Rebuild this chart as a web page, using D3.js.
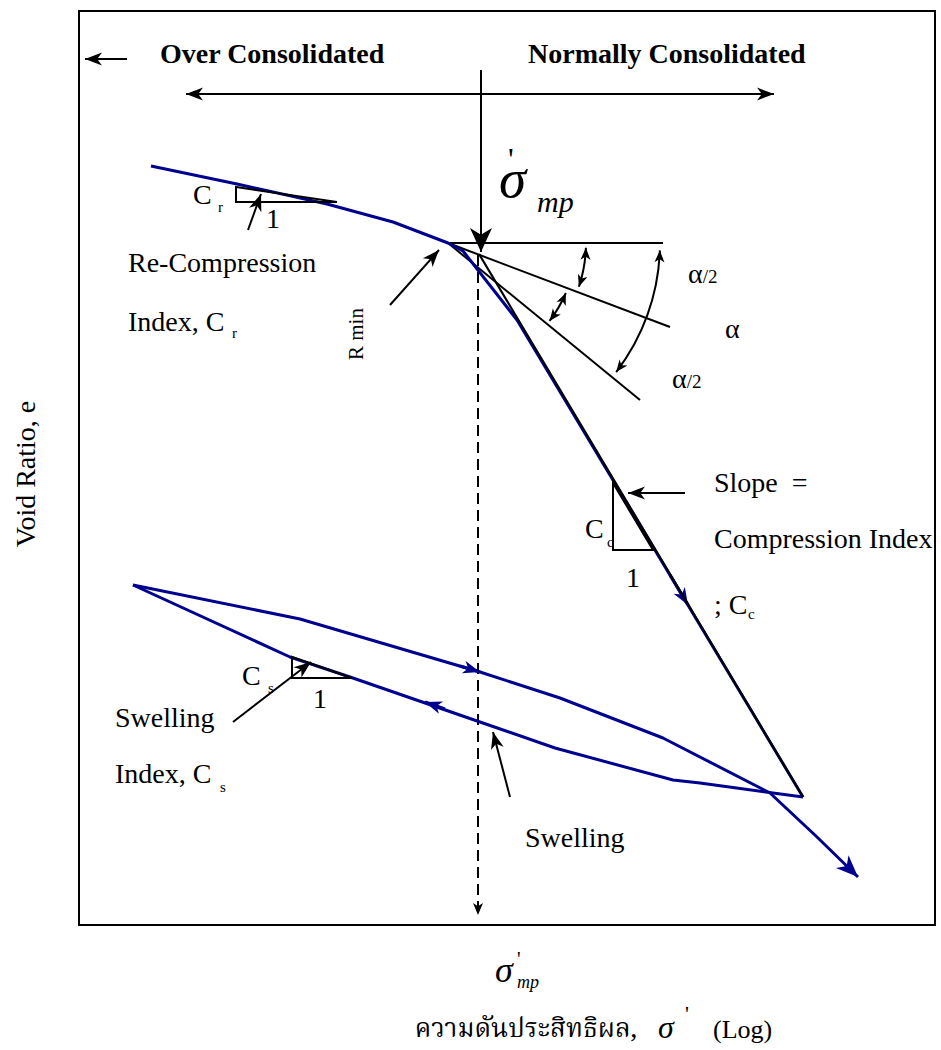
<!DOCTYPE html>
<html>
<head>
<meta charset="utf-8">
<title>e - log p</title>
<script src="https://d3js.org/d3.v7.min.js"></script>
<style>
  body { margin: 0; background: #fff; }
  text { font-family: "Liberation Serif", "Times New Roman", serif; fill: #000; }
  .head { font-weight: bold; font-size: 28px; }
  .lbl { font-size: 28px; }
  .sub { font-size: 15px; }
  .thai { font-family: "Noto Serif Thai", "Noto Sans Thai", "Loma", "Garuda", "DejaVu Sans", serif; font-size: 26px; }
</style>
</head>
<body>
<div id="chart"></div>
<script>
// diagram units: x = log(sigma') across the frame (0..856), y = void ratio e (0..914)
const compression = [[72,759],[158,741],[248,721],[314,703],[369,682],[384,674],[438,605],[724,128]];
const ccLine = [[400,671],[724,128]];
const unloading = [[724,128],[621,142],[594,145],[476,177],[401,203],[271,248],[211,268],[54,340]];
const reloading = [[54,340],[221,306],[401,253],[481,227],[584,187],[691,132],[738,88],[779,48]];

// arrows drawn on the curves: [from, tip]
const curveArrows = [[[591,350],[609,320]], [[381,259],[401,253]], [[366,216],[346,223]]];

// Casagrande construction
const vertex = [369,682];
const horizLine = [[369,682],[584,682]];
const bisector = [[369,682],[591,598]];
const tangent = [[369,682],[561,525]];
const angleArcs = [ // [radius, start deg, end deg] below the horizontal
  [138, 2, 18.5],
  [128, 23, 37.5],
  [212, 2, 37.5]
];

const triangles = [
  [[157,738],[157,723],[258,723]],   // Cr
  [[213,268],[213,247],[273,247]],   // Cs
  [[534,442],[534,375],[574,375]]    // Cc
];

// pointer arrows: [from, tip]
const pointers = [
  [[48,866],[6,866]],
  [[169,695],[182,731]],
  [[311,620],[360,675]],
  [[154,203],[232,263]],
  [[606,432],[549,432]],
  [[431,128],[414,193]]
];
const rangeArrow = [[107,831],[695,831]];
const sigmaArrow = [[402,855],[402,673]];
const dashedLine = [[399,670],[399,10]];

const labels = [
  ["Re-Compression", 49, 653, "lbl"],
  ["Index, C", 49, 594, "lbl"],
  ["r", 153, 587, "sub"],
  ["C", 114, 721, "lbl"],
  ["r", 139, 713, "sub"],
  ["1", 187, 697, "lbl"],
  ["Slope  =", 635, 433, "lbl"],
  ["Compression Index", 635, 377, "lbl"],
  ["; C", 635, 311, "lbl"],
  ["c", 669, 306, "sub"],
  ["C", 506, 387, "lbl"],
  ["c", 528, 378, "sub"],
  ["1", 547, 338, "lbl"],
  ["C", 163, 240, "lbl"],
  ["s", 189, 232, "sub"],
  ["1", 234, 217, "lbl"],
  ["Swelling", 36, 198, "lbl"],
  ["Index, C", 36, 142, "lbl"],
  ["s", 141, 133, "sub"],
  ["Swelling", 446, 78, "lbl"],
  ["\u03b1", 646, 587, "lbl"]
];
const headings = [["Over Consolidated", 81, 862], ["Normally Consolidated", 449, 862]];
const halfAlpha = [[609, 642], [593, 537]];

const W = 941, H = 1050;
const svg = d3.select("#chart").append("svg").attr("width", W).attr("height", H);

const x = d3.scaleLinear().domain([0, 856]).range([79, 935]);
const y = d3.scaleLinear().domain([0, 914]).range([925, 11]);
const line = d3.line().x(d => x(d[0])).y(d => y(d[1]));

const BLUE = "#00008f";
const defs = svg.append("defs");
function marker(id, len, half, color) {
  defs.append("marker")
    .attr("id", id)
    .attr("viewBox", `${-len - 1} ${-half - 1} ${len + 2} ${2 * half + 2}`)
    .attr("markerWidth", len + 2)
    .attr("markerHeight", 2 * half + 2)
    .attr("refX", 0).attr("refY", 0)
    .attr("markerUnits", "userSpaceOnUse")
    .attr("orient", "auto-start-reverse")
    .append("path")
    .attr("d", `M0,0L${-len},${-half}L${-len * 0.72},0L${-len},${half}Z`)
    .attr("fill", color);
}
marker("big", 24, 11, "#000");
marker("mid", 17, 6.5, "#000");
marker("small", 12, 5, "#000");
marker("blue", 17, 6.5, BLUE);
marker("blueEnd", 22, 9, BLUE);

// frame
svg.append("rect")
  .attr("x", x(0)).attr("y", y(914))
  .attr("width", x(856) - x(0)).attr("height", y(0) - y(914))
  .attr("fill", "none").attr("stroke", "#000").attr("stroke-width", 2);

// construction lines
[horizLine, bisector, tangent].forEach(l => {
  svg.append("path").attr("d", line(l))
    .attr("fill", "none").attr("stroke", "#000").attr("stroke-width", 2);
});

angleArcs.forEach(a => {
  const p = d3.path();
  const r = x(a[0]) - x(0);
  p.arc(x(vertex[0]), y(vertex[1]), r, a[1] * Math.PI / 180, a[2] * Math.PI / 180);
  svg.append("path").attr("d", p.toString())
    .attr("fill", "none").attr("stroke", "#000").attr("stroke-width", 2)
    .attr("marker-start", "url(#small)").attr("marker-end", "url(#small)");
});

// dashed projection
svg.append("path").attr("d", line(dashedLine))
  .attr("fill", "none").attr("stroke", "#000").attr("stroke-width", 2)
  .attr("stroke-dasharray", "11,6").attr("marker-end", "url(#small)");

// blue curves
[compression, unloading].forEach(c => {
  svg.append("path").attr("d", line(c))
    .attr("fill", "none").attr("stroke", BLUE).attr("stroke-width", 3)
    .attr("stroke-linejoin", "round");
});
svg.append("path").attr("d", line(reloading))
  .attr("fill", "none").attr("stroke", BLUE).attr("stroke-width", 3)
  .attr("stroke-linejoin", "round").attr("marker-end", "url(#blueEnd)");
curveArrows.forEach(a => {
  svg.append("path").attr("d", line(a))
    .attr("fill", "none").attr("stroke", BLUE).attr("stroke-width", 3)
    .attr("marker-end", "url(#blue)");
});

// compression index line
svg.append("path").attr("d", line(ccLine))
  .attr("fill", "none").attr("stroke", "#000").attr("stroke-width", 2.2);

// slope triangles
triangles.forEach(t => {
  svg.append("path").attr("d", line(t) + "Z")
    .attr("fill", "none").attr("stroke", "#000").attr("stroke-width", 2);
});

// arrows
pointers.forEach(p => {
  svg.append("path").attr("d", line(p))
    .attr("fill", "none").attr("stroke", "#000").attr("stroke-width", 2)
    .attr("marker-end", "url(#mid)");
});
svg.append("path").attr("d", line(rangeArrow))
  .attr("fill", "none").attr("stroke", "#000").attr("stroke-width", 2)
  .attr("marker-start", "url(#mid)").attr("marker-end", "url(#mid)");
svg.append("path").attr("d", line(sigmaArrow))
  .attr("fill", "none").attr("stroke", "#000").attr("stroke-width", 2)
  .attr("marker-end", "url(#big)");

// texts
svg.selectAll("text.h").data(headings).join("text")
  .attr("class", "head").attr("x", d => x(d[1])).attr("y", d => y(d[2])).text(d => d[0]);

svg.selectAll("text.l").data(labels).join("text")
  .attr("class", d => d[3]).attr("x", d => x(d[1])).attr("y", d => y(d[2]))
  .attr("xml:space", "preserve").style("white-space", "pre")
  .text(d => d[0]);

halfAlpha.forEach(d => {
  const t = svg.append("text").attr("x", x(d[0])).attr("y", y(d[1])).style("font-size", "28px");
  t.append("tspan").text("\u03b1");
  t.append("tspan").style("font-size", "19px").text("/2");
});

// sigma'mp at the construction point (one text element, parts placed by tspans)
const topSig = svg.append("text").attr("x", x(420)).attr("y", y(728))
  .style("font-size", "55px").style("font-style", "italic");
topSig.append("tspan").text("\u03c3");
topSig.append("tspan").attr("x", x(429)).attr("y", y(755))
  .style("font-size", "32px").style("font-style", "normal").text("'");
topSig.append("tspan").attr("x", x(458)).attr("y", y(713))
  .style("font-size", "30px").text("mp");

// R min
svg.append("text")
  .attr("transform", `translate(${x(284)},${y(565)}) rotate(-90)`)
  .style("font-size", "21px").text("R min");

// axis titles
svg.append("text")
  .attr("transform", `translate(${x(-44)},${y(451)}) rotate(-90)`)
  .attr("text-anchor", "middle").style("font-size", "28px").text("Void Ratio, e");

const botSig = svg.append("text").attr("x", x(416)).attr("y", y(-57))
  .style("font-size", "36px").style("font-style", "italic");
botSig.append("tspan").text("\u03c3");
botSig.append("tspan").attr("x", x(438)).attr("y", y(-41))
  .style("font-size", "20px").style("font-style", "normal").text("'");
botSig.append("tspan").attr("x", x(438)).attr("y", y(-63))
  .style("font-size", "18px").text("mp");

svg.append("text").attr("class", "thai").attr("x", x(558)).attr("y", y(-112))
  .attr("text-anchor", "end").text("ความดันประสิทธิผล,");
const xSig = svg.append("text").attr("x", x(579)).attr("y", y(-113))
  .style("font-size", "32px").style("font-style", "italic");
xSig.append("tspan").text("\u03c3");
xSig.append("tspan").attr("x", x(606)).attr("y", y(-96))
  .style("font-size", "22px").style("font-style", "normal").text("'");
svg.append("text").attr("x", x(634)).attr("y", y(-113))
  .style("font-size", "26px").text("(Log)");
</script>
</body>
</html>
